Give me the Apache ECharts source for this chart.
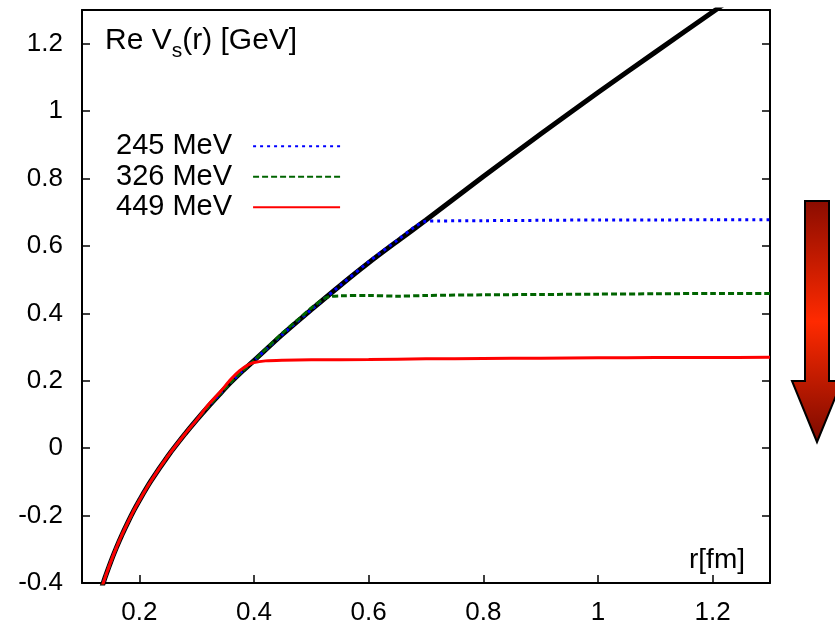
<!DOCTYPE html>
<html>
<head>
<meta charset="utf-8">
<title>Re Vs(r)</title>
<script src="https://cdn.jsdelivr.net/npm/echarts@6/dist/echarts.min.js"></script>
<style>
  html, body { margin: 0; padding: 0; background: #ffffff; }
  #chart { width: 835px; height: 629px; }
</style>
</head>
<body>
<div id="chart"></div>
<script>
// Vacuum potential (black) sampled in r [fm] and V [GeV]
const rVac = [0.13, 0.135, 0.14, 0.15, 0.16, 0.17, 0.18, 0.19, 0.2, 0.22, 0.25, 0.28, 0.3, 0.32, 0.34, 0.36, 0.38, 0.4,
              0.45, 0.5, 0.55, 0.6, 0.65, 0.7, 0.8, 0.9, 1.0, 1.1, 1.2, 1.25];
const vVac = [-0.437, -0.411, -0.385, -0.338, -0.295, -0.256, -0.220, -0.186, -0.155, -0.098, -0.023, 0.043, 0.084, 0.123,
              0.160, 0.196, 0.229, 0.260, 0.338, 0.411, 0.482, 0.550, 0.614, 0.677, 0.806, 0.932, 1.055, 1.175, 1.294, 1.354];

// Finite-temperature curves: common part up to the branch point, then the plateau
const r245 = [0.6, 0.65, 0.68, 0.70, 0.72, 0.8, 0.9, 1.0, 1.1, 1.2, 1.3];
const v245 = [0.553, 0.617, 0.656, 0.673, 0.674, 0.675, 0.676, 0.677, 0.677, 0.678, 0.678];

const r326 = [0.45, 0.48, 0.50, 0.52, 0.53, 0.55, 0.6, 0.65, 0.7, 0.8, 0.9, 1.0, 1.1, 1.2, 1.3];
const v326 = [0.342, 0.386, 0.416, 0.441, 0.449, 0.452, 0.453, 0.451, 0.453, 0.455, 0.456, 0.457, 0.458, 0.459, 0.459];

const r449 = [0.32, 0.34, 0.36, 0.375, 0.39, 0.40, 0.42, 0.45, 0.5, 0.6, 0.7, 0.8, 0.9, 1.0, 1.1, 1.2, 1.3];
const v449 = [0.128, 0.165, 0.205, 0.230, 0.247, 0.254, 0.259, 0.261, 0.262, 0.263, 0.265, 0.266, 0.267, 0.268, 0.269, 0.269, 0.270];

const seriesNames = ['245 MeV', '326 MeV', '449 MeV'];
const xTicks = [0.2, 0.4, 0.6, 0.8, 1.0, 1.2];
const yTicks = [-0.4, -0.2, 0, 0.2, 0.4, 0.6, 0.8, 1.0, 1.2];

function joinCurve(rTail, vTail) {
  const pts = [];
  for (let i = 0; i < rVac.length; i++) {
    if (rVac[i] < rTail[0]) pts.push([rVac[i], vVac[i]]);
  }
  for (let i = 0; i < rTail.length; i++) pts.push([rTail[i], vTail[i]]);
  return pts;
}

const fmt = v => String(+(+v).toFixed(1));
const FONT = '"Liberation Sans", Arial, Helvetica, sans-serif';

const chart = echarts.init(document.getElementById('chart'), null, { renderer: 'canvas' });

const axisLineStyle = { color: '#000', width: 2 };

chart.setOption({
  animation: false,
  backgroundColor: '#ffffff',
  textStyle: { fontFamily: FONT },
  grid: { left: 82, top: 10, right: 65, bottom: 46, containLabel: false },
  title: {
    left: 100, top: 21,
    text: '{a|Re V}{s|s}{a|(r) [GeV]}',
    textStyle: {
      fontWeight: 'normal',
      rich: {
        a: { fontFamily: FONT, fontSize: 30, fontWeight: 'normal', color: '#000', lineHeight: 34, verticalAlign: 'top' },
        s: { fontFamily: FONT, fontSize: 21, fontWeight: 'normal', color: '#000', lineHeight: 21, padding: [15, 0, 0, 0], verticalAlign: 'top' }
      }
    }
  },
  legend: {
    orient: 'vertical',
    left: 111, top: 126,
    align: 'right',
    itemWidth: 87, itemHeight: 14, itemGap: 0,
    data: seriesNames,
    itemStyle: { opacity: 0, borderWidth: 0 },
    textStyle: { fontFamily: FONT, fontSize: 29, color: '#000', lineHeight: 30.5, padding: [0, 16, 0, 0] }
  },
  xAxis: [{
    type: 'value', position: 'bottom', min: 0.1, max: 1.3,
    axisLine: { onZero: false, lineStyle: axisLineStyle },
    axisTick: { inside: true, length: 8, customValues: xTicks, lineStyle: { color: '#000', width: 1.5 } },
    axisLabel: { customValues: xTicks, formatter: fmt, fontSize: 26, color: '#000', margin: 17, fontFamily: FONT },
    splitLine: { show: false }
  }, {
    type: 'value', position: 'top', min: 0.1, max: 1.3,
    axisLine: { onZero: false, lineStyle: axisLineStyle },
    axisTick: { show: false }, axisLabel: { show: false }, splitLine: { show: false }
  }],
  yAxis: [{
    type: 'value', position: 'left', min: -0.4, max: 1.3,
    axisLine: { onZero: false, lineStyle: axisLineStyle },
    axisTick: { inside: true, length: 8, customValues: yTicks.slice(1), lineStyle: { color: '#000', width: 1.5 } },
    axisLabel: { customValues: yTicks, formatter: fmt, fontSize: 26, color: '#000', margin: 19, fontFamily: FONT },
    splitLine: { show: false }
  }, {
    type: 'value', position: 'right', min: -0.4, max: 1.3,
    axisLine: { onZero: false, lineStyle: axisLineStyle },
    axisTick: { inside: true, length: 8, customValues: yTicks.slice(1), lineStyle: { color: '#000', width: 1.5 } },
    axisLabel: { show: false }, splitLine: { show: false }
  }],
  series: [{
    name: 'vacuum', type: 'line', xAxisIndex: 0, yAxisIndex: 0,
    data: rVac.map((r, i) => [r, vVac[i]]),
    showSymbol: false, symbol: 'none', smooth: 0.3, clip: true,
    lineStyle: { color: '#000', width: 5 }, z: 2
  }, {
    name: seriesNames[0], type: 'line',
    data: joinCurve(r245, v245),
    showSymbol: false, symbol: 'none', smooth: 0.3, clip: true,
    itemStyle: { color: '#0000ff' },
    lineStyle: { color: '#0000ff', width: 3, type: [3, 4] }, z: 3
  }, {
    name: seriesNames[1], type: 'line',
    data: joinCurve(r326, v326),
    showSymbol: false, symbol: 'none', smooth: 0.3, clip: true,
    itemStyle: { color: '#006400' },
    lineStyle: { color: '#006400', width: 3, type: [6, 3] }, z: 4
  }, {
    name: seriesNames[2], type: 'line',
    data: joinCurve(r449, v449),
    showSymbol: false, symbol: 'none', smooth: 0.3, clip: true,
    itemStyle: { color: '#ff0000' },
    lineStyle: { color: '#ff0000', width: 3 }, z: 5
  }],
  graphic: [{
    type: 'text', x: 745, y: 560,
    style: { text: 'r[fm]', fontFamily: FONT, fontSize: 28, fill: '#000', align: 'right', verticalAlign: 'middle' }
  }, {
    // downward arrow beside the plot
    type: 'polygon',
    shape: { points: [[805, 201], [829, 201], [829, 381], [842, 381], [817, 442], [792, 381], [805, 381]] },
    style: {
      fill: new echarts.graphic.LinearGradient(0, 0, 0, 1, [
        { offset: 0, color: '#8a0c00' },
        { offset: 0.5, color: '#ff2a00' },
        { offset: 1, color: '#7a0a00' }
      ]),
      stroke: '#000', lineWidth: 2
    }
  }]
});
</script>
</body>
</html>
